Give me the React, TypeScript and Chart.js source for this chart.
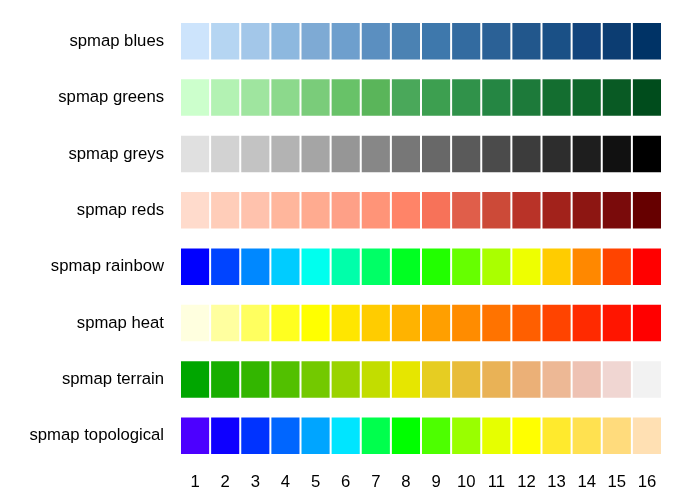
import React, { useEffect, useRef } from "react";
import { Chart, registerables } from "chart.js";

Chart.register(...registerables);

const ROW_LABELS = [
  "spmap blues",
  "spmap greens",
  "spmap greys",
  "spmap reds",
  "spmap rainbow",
  "spmap heat",
  "spmap terrain",
  "spmap topological",
];

const COLUMNS = [1, 2, 3, 4, 5, 6, 7, 8, 9, 10, 11, 12, 13, 14, 15, 16];

const BLUES = ["#cde4fc", "#b5d5f2", "#a3c7e9", "#8db8df", "#7eaad4", "#6e9fcd", "#5b8fc0", "#4b82b3", "#3e78ac", "#336ba0", "#2b6196", "#22578c", "#1a5086", "#12447c", "#0c3d72", "#003366"];
const GREENS = ["#ccffcc", "#b3f2b3", "#9fe59f", "#8cd98c", "#7acc7a", "#68c268", "#5ab55a", "#4aa85a", "#3d9f50", "#30924a", "#258643", "#1d7a3a", "#146e30", "#0e662a", "#095a24", "#004c1c"];
const GREYS = ["#e0e0e0", "#d2d2d2", "#c3c3c3", "#b3b3b3", "#a5a5a5", "#969696", "#878787", "#777777", "#686868", "#5a5a5a", "#4b4b4b", "#3c3c3c", "#2d2d2d", "#1e1e1e", "#111111", "#000000"];
const REDS = ["#ffdbcc", "#ffcdb9", "#ffc2ad", "#ffb69c", "#ffab90", "#fea087", "#ff9478", "#ff8468", "#f77259", "#e05e4a", "#cc4a38", "#b93328", "#a2221b", "#8d1612", "#7a0b0b", "#660000"];
const RAINBOW = ["#0000ff", "#0044ff", "#0088ff", "#00ccff", "#00ffee", "#00ffaa", "#00ff66", "#00ff22", "#22ff00", "#66ff00", "#aaff00", "#eeff00", "#ffcc00", "#ff8800", "#ff4400", "#ff0000"];
const HEAT = ["#ffffdf", "#ffff9f", "#ffff5f", "#ffff20", "#ffff00", "#ffe600", "#ffcc00", "#ffb300", "#ff9f00", "#ff8c00", "#ff7300", "#ff5f00", "#ff4400", "#ff2a00", "#ff1500", "#ff0000"];
const TERRAIN = ["#00a600", "#18ae00", "#33b600", "#52c000", "#73c900", "#9ad300", "#c2dd00", "#e6e600", "#e6cd22", "#e8bc3a", "#e9b256", "#ebb077", "#edb895", "#eec2b3", "#f0d6d2", "#f2f2f2"];
const TOPOLOGICAL = ["#4c00ff", "#0e00ff", "#0033ff", "#0066ff", "#00a5ff", "#00e5ff", "#00ff4d", "#00ff00", "#4dff00", "#99ff00", "#e6ff00", "#ffff00", "#ffea2d", "#ffe150", "#ffdb7c", "#ffe0b3"];

const PALETTES = [BLUES, GREENS, GREYS, REDS, RAINBOW, HEAT, TERRAIN, TOPOLOGICAL];

const FONT = "Arial, 'Liberation Sans', sans-serif";

export default function App() {
  const ref = useRef<HTMLCanvasElement | null>(null);

  useEffect(() => {
    if (!ref.current) return;
    const datasets = COLUMNS.map((c, k) => ({
      label: String(c),
      data: ROW_LABELS.map(() => [c - 0.5, c + 0.5]),
      backgroundColor: PALETTES.map((p) => p[k]),
      borderColor: "rgba(255,255,255,0.5)",
      borderWidth: 1,
      borderSkipped: false,
      grouped: false,
      barPercentage: 0.683,
      categoryPercentage: 1,
    }));
    const chart = new Chart(ref.current, {
      type: "bar",
      data: { labels: ROW_LABELS, datasets: datasets as any },
      options: {
        indexAxis: "y",
        animation: false,
        responsive: false,
        maintainAspectRatio: false,
        layout: { padding: { left: 0, right: 22, top: 13, bottom: 0 } },
        plugins: { legend: { display: false }, tooltip: { enabled: false } },
        scales: {
          x: {
            type: "linear",
            min: 0.5,
            max: 16.5,
            grid: { display: false, drawTicks: false },
            border: { display: false },
            afterBuildTicks: (scale: any) => {
              scale.ticks = COLUMNS.map((v) => ({ value: v }));
            },
            afterFit: (scale: any) => {
              scale.height = 34;
              scale.paddingLeft = 0;
              scale.paddingRight = 0;
            },
            ticks: {
              color: "#000",
              font: { family: FONT, size: 16.7 },
              padding: 8,
              maxRotation: 0,
              autoSkip: false,
              callback: (v: any) => String(v),
            },
          },
          y: {
            type: "category",
            grid: { display: false, drawTicks: false },
            border: { display: false },
            afterFit: (scale: any) => {
              scale.width = 180;
              scale.paddingTop = 0;
              scale.paddingBottom = 0;
            },
            ticks: {
              color: "#000",
              font: { family: FONT, size: 16.7 },
              padding: 16,
            },
          },
        },
      },
    });
    return () => chart.destroy();
  }, []);

  return (
    <div style={{ position: "fixed", left: 0, top: 0, width: 684, height: 498, background: "#fff" }}>
      <canvas ref={ref} width={684} height={498} style={{ width: 684, height: 498 }} />
    </div>
  );
}
